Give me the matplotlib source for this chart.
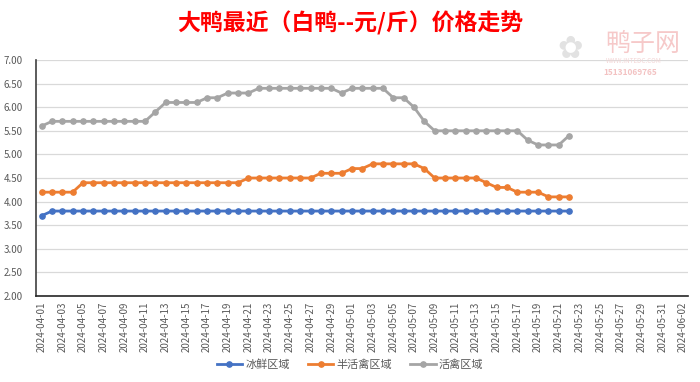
import matplotlib
matplotlib.use("Agg")
import matplotlib.pyplot as plt
import pandas as pd

plt.rcParams["font.family"] = ["Noto Sans CJK SC", "DejaVu Sans"]
plt.rcParams["axes.unicode_minus"] = False

# 数据 (2024-04-01 ~ 2024-05-22, 每日)
dates = pd.date_range("2024-04-01", "2024-05-22", freq="D")
tick_dates = pd.date_range("2024-04-01", "2024-06-02", freq="2D")

ice_fresh = [3.7] + [3.8] * 51  # 冰鲜区域

half_live = ([4.2] * 4 + [4.4] * 16 + [4.5] * 7 + [4.6] * 3 + [4.7] * 2
             + [4.8] * 5 + [4.7] + [4.5] * 5 + [4.4] + [4.3] * 2 + [4.2] * 3
             + [4.1] * 3)  # 半活禽区域

live = ([5.6] + [5.7] * 10 + [5.9] + [6.1] * 4 + [6.2] * 2 + [6.3] * 3
        + [6.4] * 8 + [6.3] + [6.4] * 4 + [6.2] * 2 + [6.0] + [5.7]
        + [5.5] * 9 + [5.3] + [5.2] * 3 + [5.4])  # 活禽区域

series = [
    ("冰鲜区域", ice_fresh, "#4472C4"),
    ("半活禽区域", half_live, "#ED7D31"),
    ("活禽区域", live, "#A5A5A5"),
]

fig = plt.figure(figsize=(7.0, 3.82), dpi=100)
ax = fig.add_axes([0.052, 0.225, 0.931, 0.618])

for name, vals, color in series:
    ax.plot(dates, vals, color=color, linewidth=2.0, marker="o",
            markersize=3.8, label=name)

ax.set_ylim(2.0, 7.0)
ax.set_yticks([2.0 + 0.5 * i for i in range(11)])
ax.yaxis.set_major_formatter(plt.FuncFormatter(lambda v, p: f"{v:.2f}"))
ax.set_xlim(dates[0] - pd.Timedelta(hours=12), tick_dates[-1] + pd.Timedelta(hours=12))
ax.set_xticks(tick_dates)
ax.set_xticklabels([d.strftime("%Y-%m-%d") for d in tick_dates], rotation=90)

ax.grid(axis="y", color="#D9D9D9", linewidth=0.9)
ax.set_axisbelow(True)
for s in ["top", "right"]:
    ax.spines[s].set_visible(False)
ax.spines["left"].set_color("#404040")
ax.spines["left"].set_linewidth(1.2)
ax.spines["bottom"].set_color("#262626")
ax.spines["bottom"].set_linewidth(1.2)
ax.tick_params(axis="both", length=0, labelsize=7, colors="#595959", pad=4)
ax.tick_params(axis="y", pad=10)

fig.text(0.5, 0.94, "大鸭最近（白鸭--元/斤）价格走势", color="#FF0000",
         fontsize=16.5, fontweight="bold", ha="center", va="center")

# 水印
fig.text(0.815, 0.87, "✿", color="#E2E2E2", fontsize=22, ha="center", va="center",
         family=["DejaVu Sans"])
fig.text(0.918, 0.885, "鸭子网", color="#F6C9C9", fontsize=18, ha="center", va="center")
fig.text(0.905, 0.84, "WWW.INTEDC.COM", color="#F3D6D6", fontsize=4.5,
         ha="center", va="center")
fig.text(0.9, 0.81, "15131069765", color="#F3C2C2", fontsize=6,
         fontweight="bold", ha="center", va="center")

fig.legend(loc="center", bbox_to_anchor=(0.5, 0.045), ncol=3, frameon=False,
           fontsize=8, handlelength=2.3, columnspacing=1.6, handletextpad=0.3,
           labelcolor="#595959")

fig.savefig("out.png", dpi=100)
